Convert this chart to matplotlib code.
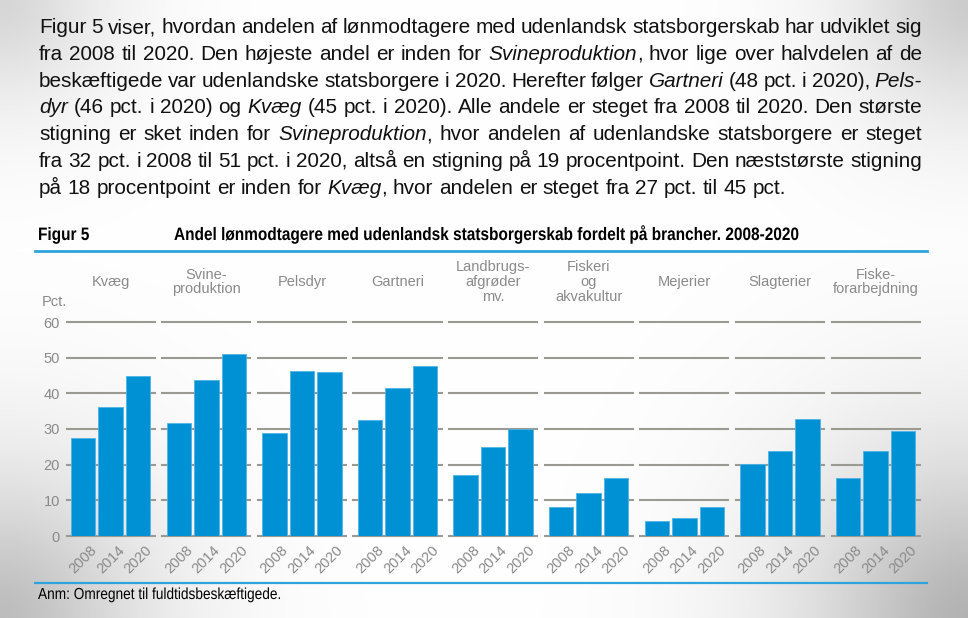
import numpy as np
import matplotlib
matplotlib.use("Agg")
import matplotlib.pyplot as plt
from matplotlib import font_manager
from matplotlib.font_manager import FontProperties
from matplotlib.lines import Line2D
from matplotlib.patches import PathPatch
from matplotlib.textpath import TextPath
from matplotlib.transforms import Affine2D

W, H = 968, 618

# data
branches = ["Kvæg", "Svine-\nproduktion", "Pelsdyr", "Gartneri", "Landbrugs-\nafgrøder\nmv.",
            "Fiskeri\nog\nakvakultur", "Mejerier", "Slagterier", "Fiske-\nforarbejdning"]
years = ["2008", "2014", "2020"]
v2008 = [27.6, 31.6, 29.0, 32.5, 17.1, 8.0, 4.2, 20.2, 16.4]
v2014 = [36.3, 43.8, 46.4, 41.5, 24.9, 12.1, 5.1, 23.7, 23.7]
v2020 = [44.9, 51.1, 46.1, 47.6, 30.1, 16.2, 8.0, 32.8, 29.5]
yticks = [0, 10, 20, 30, 40, 50, 60]

paragraph = [
    "Figur 5 viser, hvordan andelen af lønmodtagere med udenlandsk statsborgerskab har udviklet sig",
    "fra 2008 til 2020. Den højeste andel er inden for *Svineproduktion*, hvor lige over halvdelen af de",
    "beskæftigede var udenlandske statsborgere i 2020. Herefter følger *Gartneri* (48 pct. i 2020), *Pels-*",
    "*dyr* (46 pct. i 2020) og *Kvæg* (45 pct. i 2020). Alle andele er steget fra 2008 til 2020. Den største",
    "stigning er sket inden for *Svineproduktion*, hvor andelen af udenlandske statsborgere er steget",
    "fra 32 pct. i 2008 til 51 pct. i 2020, altså en stigning på 19 procentpoint. Den næststørste stigning",
    "på 18 procentpoint er inden for *Kvæg*, hvor andelen er steget fra 27 pct. til 45 pct.",
]
fig_label = "Figur 5"
title = "Andel lønmodtagere med udenlandsk statsborgerskab fordelt på brancher. 2008-2020"
note = "Anm: Omregnet til fuldtidsbeskæftigede."

names = {f.name for f in font_manager.fontManager.ttflist}
regular = "Liberation Sans" if "Liberation Sans" in names else "DejaVu Sans"

bar_col = "#0091d5"
grid_col = "#9a9a92"
gray = "#8a8a8a"
line_blue = "#2ea3dc"

fig = plt.figure(figsize=(W / 100, H / 100), dpi=100, facecolor="white")
r = fig.canvas.get_renderer()


def fx(x):
    return x / W


def fy(y):
    return 1 - y / H


# soft page shadow in the corners
bg = fig.add_axes([0, 0, 1, 1], zorder=-10)
yy, xx = np.mgrid[0:H, 0:W]
dark = np.zeros((H, W))
for cx, cy, amp, rad in [(0, 0, 0.16, 110), (W, 0, 0.2, 120), (W, H, 0.3, 170), (0, H, 0.26, 150)]:
    d = np.hypot(xx - cx, yy - cy)
    dark = np.maximum(dark, amp * np.exp(-(d / rad) ** 1.6))
shade = 1 - dark
bg.imshow(np.dstack([shade] * 3), extent=[0, W, H, 0], aspect="auto")
bg.set_axis_off()


def width_of(s, **kw):
    t = fig.text(0, 0, s, **kw)
    w = t.get_window_extent(r).width
    t.remove()
    return w


def narrow_text(x, ybase, s, em, sx, weight="normal"):
    # condensed text (like Arial Narrow) drawn as a squeezed path, pixel coords
    tp = TextPath((0, 0), s, size=em, prop=FontProperties(family=regular, weight=weight))
    tr = Affine2D().scale(sx, 1).translate(x, H - ybase)
    fig.add_artist(PathPatch(tp, transform=tr, fc="#000000", lw=0))


def path_width(s, em, weight="normal"):
    tp = TextPath((0, 0), s, size=em, prop=FontProperties(family=regular, weight=weight))
    return tp.get_extents().width


# paragraph, justified
left, right = 39, 922
base_fs = 13
natural = width_of(paragraph[-1].replace("*", ""), fontsize=base_fs, family=regular)
fs = base_fs * 747 / natural

for i, line in enumerate(paragraph):
    words = []
    italic = False
    for w in line.split(" "):
        segs = []
        for j, part in enumerate(w.split("*")):
            if j > 0:
                italic = not italic
            if part:
                segs.append((part, italic))
        words.append(segs)
    widths = [sum(width_of(p, fontsize=fs, family=regular, style="italic" if it else "normal")
                  for p, it in segs) for segs in words]
    if i < len(paragraph) - 1:
        gap = (right - left - sum(widths)) / (len(words) - 1)
    else:
        gap = width_of("a a", fontsize=fs, family=regular) - 2 * width_of("a", fontsize=fs, family=regular)
    x = left
    yb = 33.3 + i * 26.7
    for segs, wd in zip(words, widths):
        xs = x
        for p, it in segs:
            t = fig.text(fx(xs), fy(yb), p, fontsize=fs, family=regular,
                         style="italic" if it else "normal", va="baseline", color="#111111")
            xs += t.get_window_extent(r).width
        x += wd + gap

# figure header, narrow bold
t_em = 18.0
t_sx = 624 / path_width(title, t_em, "bold")
narrow_text(38, 240, fig_label, t_em, t_sx, "bold")
narrow_text(174, 240, title, t_em, t_sx, "bold")
fig.add_artist(Line2D([fx(35), fx(927)], [fy(250.7)] * 2, color=line_blue, lw=2))
fig.add_artist(Line2D([fx(35), fx(927)], [fy(583)] * 2, color=line_blue, lw=1.6))

n_em = 16.0
narrow_text(38, 599, note, n_em, 242 / path_width(note, n_em))

fig.text(fx(41.7), fy(302), "Pct.", fontsize=10.5, family=regular, color=gray, va="center")

# panels
for i, name in enumerate(branches):
    l = 66.7 + i * 95.6
    ax = fig.add_axes([fx(l), fy(536), 88 / W, 214 / H])
    ax.patch.set_alpha(0)
    for v in yticks:
        ax.axhline(v, color=grid_col, lw=1.5, zorder=0, clip_on=False)
    ax.bar(range(3), [v2008[i], v2014[i], v2020[i]], width=0.89, color=bar_col,
           edgecolor="#4fb4e6", linewidth=0.6, zorder=2)
    ax.set_xlim(-0.6, 2.6)
    ax.set_ylim(0, 60)
    for s in ax.spines.values():
        s.set_visible(False)
    ax.set_xticks(range(3), years, rotation=45, fontsize=10.5, color=gray, family=regular)
    ax.set_yticks(yticks)
    ax.set_yticklabels([str(v) for v in yticks], fontsize=10.5, color=gray, family=regular)
    ax.tick_params(length=0, pad=5)
    ax.tick_params(axis="y", pad=5, labelleft=(i == 0))
    fig.text(fx(l + 44), fy(282), name, fontsize=10.5, family=regular, color=gray,
             ha="center", va="center", multialignment="center", linespacing=1.05)

fig.savefig("out.png", dpi=100, facecolor="white")
